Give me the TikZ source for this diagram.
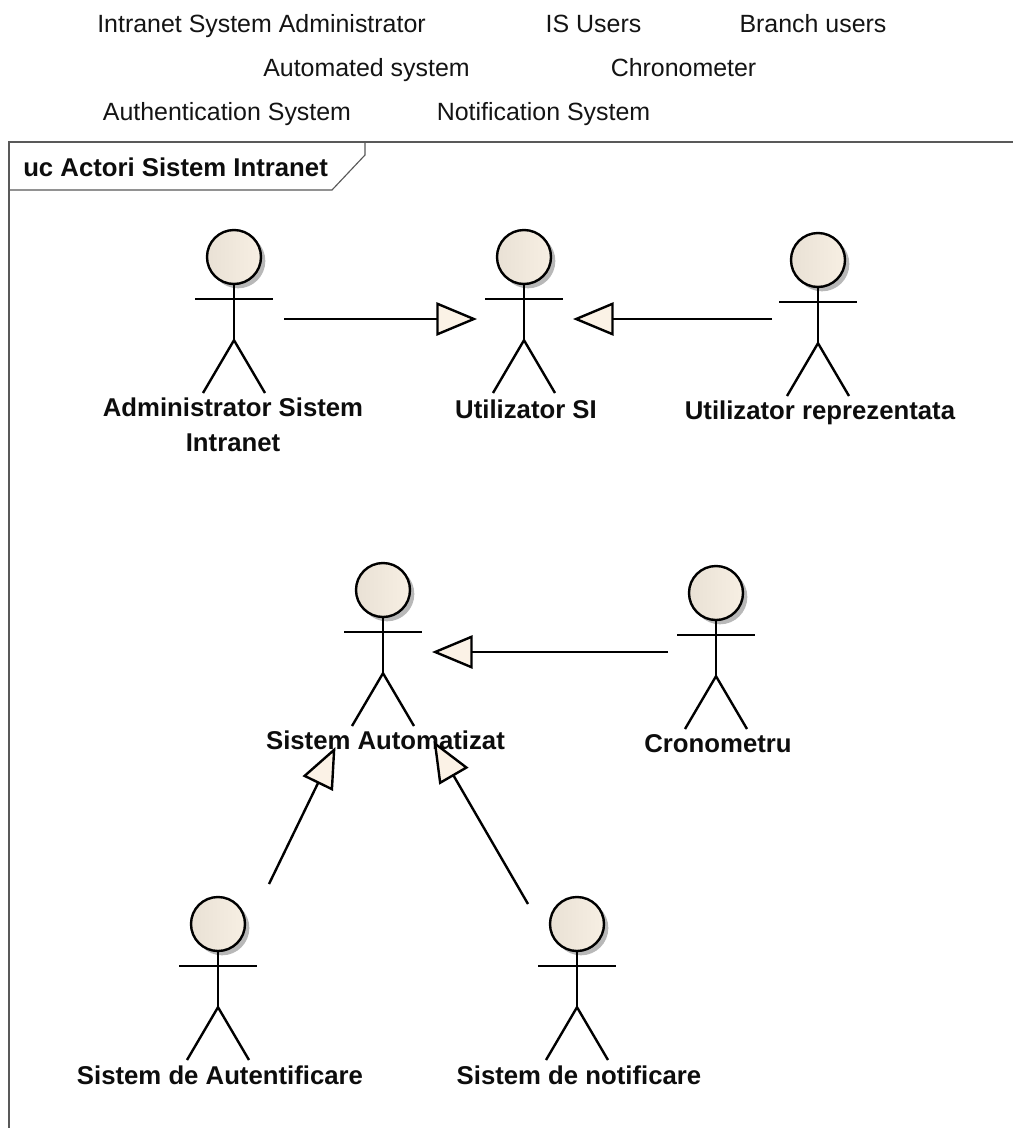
\documentclass[tikz,border=0pt]{standalone}
\usepackage{fontspec}
\setmainfont{Liberation Sans}
\usetikzlibrary{arrows.meta,calc}
\definecolor{tipfill}{HTML}{FBF2E6}
\definecolor{headL}{HTML}{E9E1D5}
\definecolor{headM}{HTML}{FCF5EA}
\definecolor{headR}{HTML}{F7EFE3}
\tikzset{
  x=0.75pt,y=-0.75pt,
  head/.style={circle,draw=black,line width=1.8pt,minimum size=40.5pt,inner sep=0pt,left color=headL,middle color=headM,right color=headR},
  headshadow/.style={circle,fill=black!28,minimum size=41pt,inner sep=0pt},
  limb/.style={draw=black,line width=1.8pt},
  lbl/.style={font=\bfseries\fontsize{19.3}{26.5}\selectfont,align=center,inner sep=0pt,text=black!95},
  captxt/.style={font=\fontsize{18.7}{22}\selectfont,inner sep=0pt,anchor=base,text=black!92},
  gen/.style={draw=black,line width=1.8pt,-{Triangle[open,length=30.5pt,width=25pt,fill=tipfill]}},
  framel/.style={draw=black!65,line width=0.85pt}
}
\newcommand{\mkactor}[3]{%
  \node[headshadow] at (#2+4,#3+4) {};
  \node[head] (#1) at (#2,#3) {};
  \draw[limb] (#1.south) -- ++(0,55) coordinate (#1-crotch);
  \draw[limb] (#2-39,#3+42) -- (#2+39,#3+42);
  \draw[limb] (#2-31,#3+136) -- (#1-crotch) -- (#2+31,#3+136);
}
\begin{document}
\begin{tikzpicture}
\useasboundingbox (0,0) rectangle (1013,1128);
\fill[white] (0,0) rectangle (1013,1128);
% captions
\node[captxt] (c1) at (261.5,32) {Intranet System Administrator};
\node[captxt] (c2) at (593.5,32) {IS Users};
\node[captxt] (c3) at (813,32) {Branch users};
\node[captxt] (c4) at (366.5,76) {Automated system};
\node[captxt] (c5) at (683.5,76) {Chronometer};
\node[captxt] (c6) at (227,120) {Authentication System};
\node[captxt] (c7) at (543.5,120) {Notification System};
% frame
\draw[framel] (1013,142) -- (9,142) -- (9,1128);
\draw[framel] (365,142) -- (365,155) -- (332,190) -- (9,190);
\node[lbl,anchor=west] (title) at (23,167) {uc Actori Sistem Intranet};
% actors
\mkactor{admin}{234}{257}
\mkactor{user}{524}{257}
\mkactor{branch}{818}{260}
\mkactor{auto}{383}{590}
\mkactor{chrono}{716}{593}
\mkactor{authn}{218}{924}
\mkactor{notif}{577}{924}
% labels
\node[lbl] (ladmin) at (233,425) {Administrator Sistem\\Intranet};
\node[lbl] (luser) at (526,409) {Utilizator SI};
\node[lbl] (lbranch) at (820,413) {Utilizator reprezentata};
\node[lbl] (lauto) at (385.5,740) {Sistem Automatizat};
\node[lbl] (lchrono) at (718,744) {Cronometru};
\node[lbl] (lauthn) at (220,1075) {Sistem de Autentificare};
\node[lbl] (lnotif) at (579,1075) {Sistem de notificare};
% connector ends
\coordinate (e1a) at (284,319); \coordinate (e1b) at (477,319);
\coordinate (e2a) at (772,319); \coordinate (e2b) at (573,319);
\coordinate (e3a) at (668,652); \coordinate (e3b) at (432,652);
\coordinate (e4a) at (269,884); \coordinate (e4b) at (335.5,747);
\coordinate (e5a) at (528,904); \coordinate (e5b) at (433.5,741);
\draw[gen] (e1a) -- (e1b);
\draw[gen] (e2a) -- (e2b);
\draw[gen] (e3a) -- (e3b);
\draw[gen] (e4a) -- (e4b);
\draw[gen] (e5a) -- (e5b);
\end{tikzpicture}
\end{document}
